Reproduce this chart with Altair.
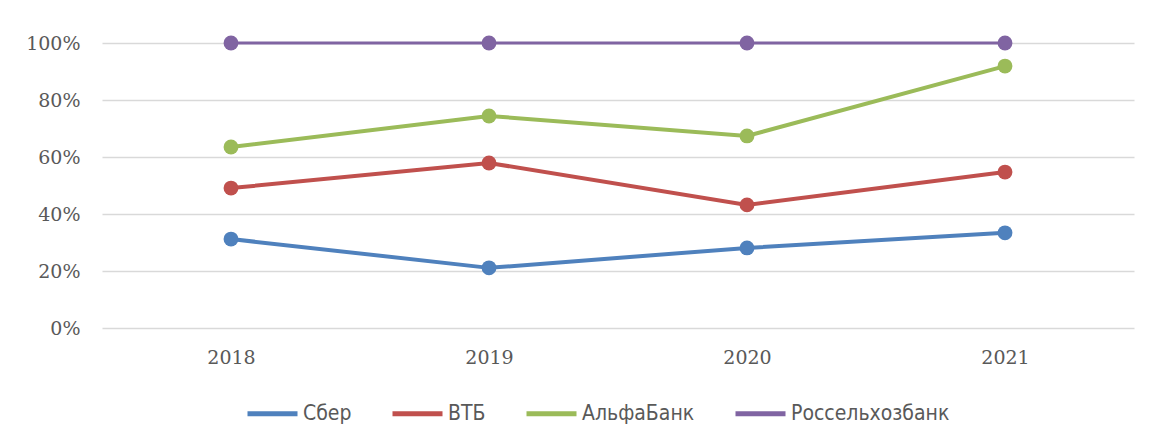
import altair as alt
import pandas as pd

years = ["2018", "2019", "2020", "2021"]
series_names = ["Сбер", "ВТБ", "АльфаБанк", "Россельхозбанк"]
sber = [0.312, 0.211, 0.281, 0.334]
vtb = [0.491, 0.579, 0.432, 0.547]
alfa = [0.635, 0.744, 0.674, 0.919]
rshb = [1.0, 1.0, 1.0, 1.0]
colors = ["#4F81BD", "#C0504D", "#9BBB59", "#8064A2"]
y_ticks = [0, 0.2, 0.4, 0.6, 0.8, 1.0]

rows = []
for name, vals in zip(series_names, [sber, vtb, alfa, rshb]):
    for yr, v in zip(years, vals):
        rows.append({"year": yr, "series": name, "value": v})
df = pd.DataFrame(rows)

x_enc = alt.X("year:N", sort=years, scale=alt.Scale(paddingInner=0, paddingOuter=0),
              axis=alt.Axis(title=None, labelAngle=0, domain=False, ticks=False,
                            labelPadding=20, labelFont="DejaVu Serif", labelFontSize=19,
                            labelColor="#595959", grid=False))
y_enc = alt.Y("value:Q", scale=alt.Scale(domain=[0, 1], nice=False),
              axis=alt.Axis(title=None, format=".0%", values=y_ticks, domain=False,
                            ticks=False, labelPadding=22, labelFont="DejaVu Serif",
                            labelFontSize=19, labelColor="#595959",
                            gridColor="#D9D9D9", gridWidth=1.3))

color_enc = alt.Color(
    "series:N",
    scale=alt.Scale(domain=series_names, range=colors),
    legend=alt.Legend(title=None, orient="none", direction="horizontal",
                      legendX=143, legendY=343,
                      symbolType="stroke", symbolSize=2500, symbolStrokeWidth=5,
                      labelFont="DejaVu Sans Condensed", labelFontSize=21,
                      labelColor="#595959", labelOffset=3, columnPadding=30),
)

chart = alt.Chart(df).mark_line(
    strokeCap="round",
    point=alt.OverlayMarkDef(filled=True, size=220, opacity=1),
).encode(
    x=x_enc,
    y=y_enc,
    color=color_enc,
    strokeWidth=alt.condition(alt.datum.series == "Россельхозбанк", alt.value(2.8), alt.value(4)),
).properties(
    width=1032, height=285,
    autosize=alt.AutoSizeParams(type="none"),
    padding={"left": 94, "top": 35, "right": 10, "bottom": 100},
    background="white",
).configure_view(stroke=None)

chart.save("out.html", embed_options={"renderer": "svg", "actions": False})
